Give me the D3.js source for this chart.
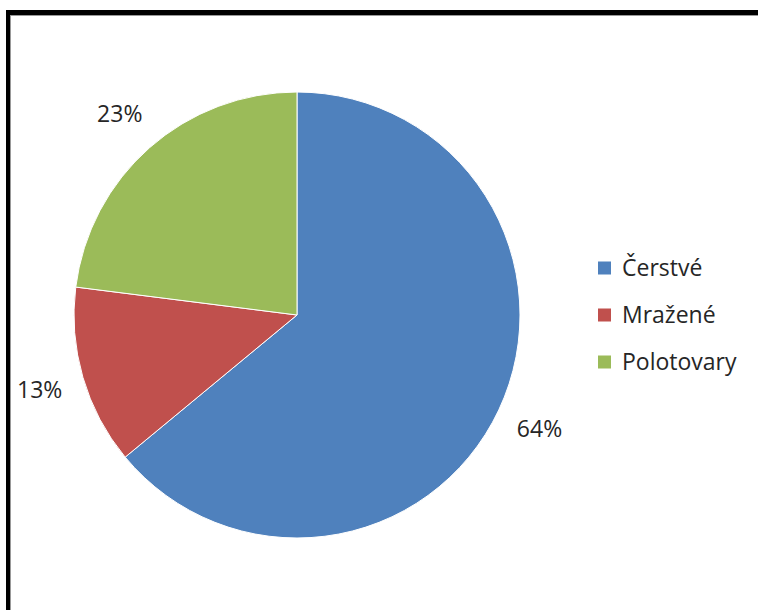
<!DOCTYPE html>
<html>
<head>
<meta charset="utf-8">
<script src="https://cdn.jsdelivr.net/npm/d3@7"></script>
<style>
html,body{margin:0;padding:0;background:#fff;}
svg{display:block;}
text{font-family:"Open Sans","Noto Sans",sans-serif;fill:#262626;}
</style>
</head>
<body>
<svg id="chart" width="758" height="610"></svg>
<script>
const categories = ["Čerstvé", "Mražené", "Polotovary"];
const values = [64, 13, 23];
const labels = ["64%", "13%", "23%"];
const colors = ["#4F81BD", "#C0504D", "#9BBB59"];

const svg = d3.select("#chart");
const W = 758, H = 610;

// frame (top and left edges visible)
svg.append("rect").attr("x", 6).attr("y", 10).attr("width", W - 6).attr("height", 5).attr("fill", "#000");
svg.append("rect").attr("x", 6).attr("y", 10).attr("width", 4).attr("height", H - 10).attr("fill", "#000");
svg.append("rect").attr("x", 10).attr("y", 15).attr("width", W - 10).attr("height", 1).attr("fill", "#999");
svg.append("rect").attr("x", 10).attr("y", 15).attr("width", 1).attr("height", H - 15).attr("fill", "#999");

const cx = 297, cy = 315, R = 223;
const pie = d3.pie().sort(null).value(d => d)(values);
const arc = d3.arc().innerRadius(0).outerRadius(R);
const labelArc = d3.arc().innerRadius(268).outerRadius(268);

const g = svg.append("g").attr("transform", `translate(${cx},${cy})`);
g.selectAll("path").data(pie).join("path")
  .attr("d", arc)
  .attr("fill", (d, i) => colors[i])
  .attr("stroke", "#fff")
  .attr("stroke-width", 1);

g.selectAll("text.lbl").data(pie).join("text")
  .attr("class", "lbl")
  .attr("transform", d => `translate(${labelArc.centroid(d)})`)
  .attr("text-anchor", "middle")
  .attr("dy", "0.36em")
  .attr("font-size", 23)
  .text((d, i) => labels[i]);

const leg = svg.append("g").attr("transform", "translate(598,268)");
const item = leg.selectAll("g").data(categories).join("g")
  .attr("transform", (d, i) => `translate(0,${i * 47})`);
item.append("rect").attr("x", 0).attr("y", -6.5).attr("width", 13).attr("height", 13)
  .attr("fill", (d, i) => colors[i]);
item.append("text").attr("x", 24).attr("dy", "0.36em").attr("font-size", 23).text(d => d);
</script>
</body>
</html>
